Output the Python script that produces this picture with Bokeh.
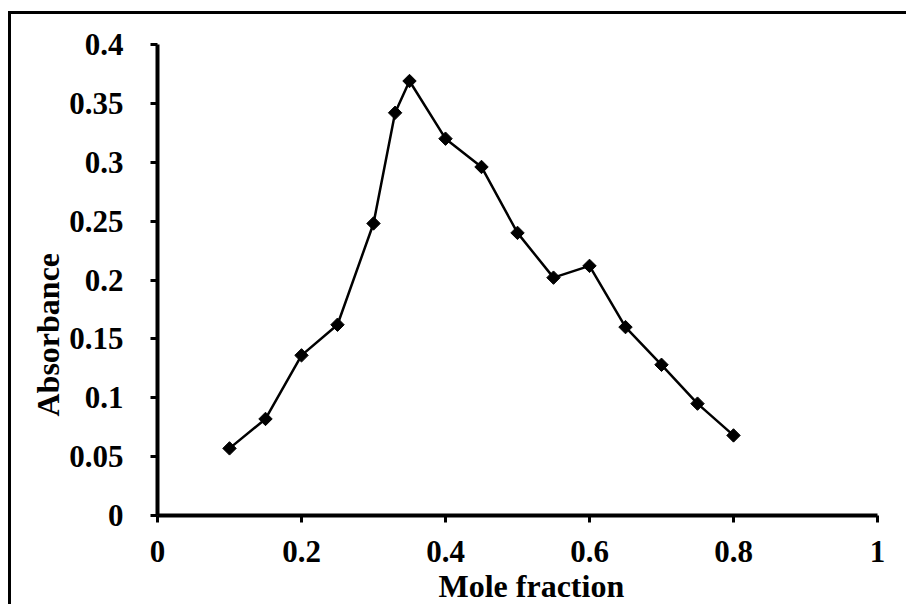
import math
from bokeh.plotting import figure
from bokeh.models import FixedTicker, Range1d, Title
from bokeh.embed import file_html
from bokeh.resources import INLINE

mole_fraction = [0.1, 0.15, 0.2, 0.25, 0.3, 0.33, 0.35, 0.4, 0.45, 0.5, 0.55, 0.6, 0.65, 0.7, 0.75, 0.8]
absorbance = [0.057, 0.082, 0.136, 0.162, 0.248, 0.342, 0.369, 0.320, 0.296, 0.240, 0.202, 0.212, 0.160, 0.128, 0.095, 0.068]

x_ticks = [0, 0.2, 0.4, 0.6, 0.8, 1.0]
x_tick_labels = ["0", "0.2", "0.4", "0.6", "0.8", "1"]
y_ticks = [0, 0.05, 0.1, 0.15, 0.2, 0.25, 0.3, 0.35, 0.4]
y_tick_labels = ["0", "0.05", "0.1", "0.15", "0.2", "0.25", "0.3", "0.35", "0.4"]
x_title = "Mole fraction"
y_title = "Absorbance"

FONT = "Liberation Serif"

p = figure(frame_width=720, frame_height=471, output_backend="svg", toolbar_location=None,
           x_range=Range1d(0, 1), y_range=Range1d(0, 0.4),
           min_border_left=146, min_border_right=29, min_border_top=30, min_border_bottom=82)
p.styles = {"border-left": "3px solid black", "border-top": "3px solid black",
            "margin-top": "11px", "margin-left": "8px"}

p.line(mole_fraction, absorbance, line_color="black", line_width=2.5)
p.scatter(mole_fraction, absorbance, marker="square", size=9.5, angle=math.pi / 4,
          fill_color="black", line_color="black")

p.xgrid.visible = False
p.ygrid.visible = False
p.outline_line_color = None

for ax in (p.xaxis[0], p.yaxis[0]):
    ax.axis_line_width = 4
    ax.major_tick_line_width = 3
    ax.major_tick_out = 7
    ax.major_tick_in = 0
    ax.minor_tick_line_color = None
    ax.major_label_text_font = FONT
    ax.major_label_text_font_style = "bold"
    ax.major_label_text_font_size = "31px"
    ax.major_label_text_color = "black"

p.xaxis.ticker = FixedTicker(ticks=x_ticks)
p.xaxis.major_label_overrides = dict(zip(x_ticks, x_tick_labels))
p.yaxis.ticker = FixedTicker(ticks=y_ticks)
p.yaxis.major_label_overrides = dict(zip(y_ticks, y_tick_labels))
p.xaxis.major_label_standoff = 18
p.yaxis.major_label_standoff = 27

# axis titles, placed slightly off-centre like the reference
p.add_layout(Title(text=x_title, align="left", offset=281, standoff=2,
                   text_font=FONT, text_font_style="bold", text_font_size="32px",
                   text_color="black"), "below")
p.add_layout(Title(text=y_title, align="left", offset=99, standoff=2,
                   text_font=FONT, text_font_style="bold", text_font_size="32px",
                   text_color="black"), "left")

open("out.html", "w").write(file_html(p, INLINE))
